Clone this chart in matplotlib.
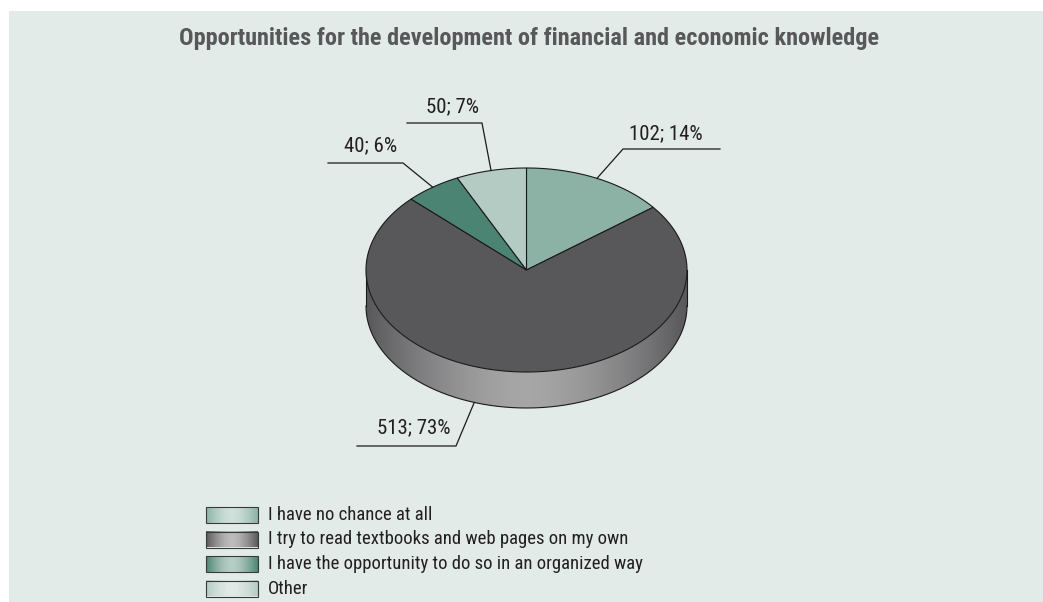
import numpy as np
import matplotlib
matplotlib.use("Agg")
import matplotlib.pyplot as plt
from matplotlib.colors import to_rgb
from matplotlib.patches import Polygon, Rectangle

title = "Opportunities for the development of financial and economic knowledge"
categories = [
    "I have no chance at all",
    "I try to read textbooks and web pages on my own",
    "I have the opportunity to do so in an organized way",
    "Other",
]
counts = [102, 513, 40, 50]
percents = [14, 73, 6, 7]
colors = ["#8bb2a5", "#58585a", "#4b8472", "#b4cbc3"]

FONT = ["Roboto Condensed", "Archivo Narrow", "DejaVu Sans"]
W, H = 1043, 602

fig = plt.figure(figsize=(W / 100, H / 100), dpi=100)
ax = fig.add_axes([0, 0, 1, 1])
ax.set_xlim(0, W)
ax.set_ylim(H, 0)
ax.axis("off")

ax.add_patch(Rectangle((9, 11), W - 9, H - 11, facecolor="#e3ebe8",
                       edgecolor="none", zorder=0))

# 3D pie geometry (pixels)
cx, cy, rx, ry, depth = 526.5, 270, 160.5, 102, 36


def ell(t, dy=0.0):
    t = np.radians(t)
    return np.column_stack([cx + rx * np.cos(t), cy - ry * np.sin(t) + dy])


def shade(color, n=400, k=0.47):
    # horizontal gradient: base colour at the rim, lighter towards the middle
    c = np.array(to_rgb(color))
    u = np.linspace(-1, 1, n)
    f = k * (1 - np.abs(u) ** 1.6)
    return c[None, :] + (1 - c[None, :]) * f[:, None]


shares = np.array(counts) / sum(counts)
starts = 90 - 360 * np.concatenate([[0], np.cumsum(shares)[:-1]])
ends = starts - 360 * shares

# front side of the cylinder, visible for angles between -180 and 0
for s, e, col in zip(starts, ends, colors):
    for lo, hi in [(-180, 0), (180, 360), (-540, -360)]:
        a, b = max(e, lo), min(s, hi)
        if b <= a:
            continue
        t = np.linspace(a, b, 120)
        pts = np.vstack([ell(t), ell(t[::-1], depth)])
        poly = Polygon(pts, closed=True, facecolor="none", edgecolor="none")
        ax.add_patch(poly)
        im = ax.imshow(shade(col)[None, :, :],
                       extent=(cx - rx, cx + rx, cy + ry + depth + 2, cy - 2),
                       aspect="auto", interpolation="bilinear", zorder=2)
        im.set_clip_path(poly)

# outline of the side
tb = np.linspace(-180, 0, 200)
bottom = ell(tb, depth)
ax.plot(bottom[:, 0], bottom[:, 1], color="#1a1a1a", lw=0.8, zorder=3)
ax.plot([cx - rx, cx - rx], [cy, cy + depth], color="#1a1a1a", lw=0.8, zorder=3)
ax.plot([cx + rx, cx + rx], [cy, cy + depth], color="#1a1a1a", lw=0.8, zorder=3)

# top face
for s, e, col in zip(starts, ends, colors):
    t = np.linspace(s, e, 200)
    pts = np.vstack([[cx, cy], ell(t)])
    ax.add_patch(Polygon(pts, closed=True, facecolor=col, edgecolor="#1a1a1a",
                         lw=0.8, joinstyle="miter", zorder=4))

# data labels with leader lines: (anchor angle, on side bottom?, elbow, line end x, text pos)
mids = (starts + ends) / 2
label_layout = [
    (mids[0], False, (623, 149), 720, (666, 134)),
    (-109, True, (456, 446), 357, (414, 428)),
    (mids[2], False, (403, 163), 328, (371, 146)),
    (mids[3], False, (482, 123), 407, (452, 107)),
]
for n, p, (ang, on_side, elbow, end_x, txt) in zip(counts, percents, label_layout):
    anchor = ell(np.array([ang]), depth if on_side else 0)[0]
    ax.plot([anchor[0], elbow[0], end_x], [anchor[1], elbow[1], elbow[1]],
            color="#1a1a1a", lw=0.9, zorder=5)
    ax.text(txt[0], txt[1], f"{n}; {p}%", ha="center", va="center",
            fontsize=15, family=FONT, color="#231f20", zorder=6)

ax.text(529, 39, title, ha="center", va="center", fontsize=17.5, fontweight="bold",
        family=FONT, color="#58585a")

# legend
row_y = [515, 539.5, 564, 588.5]
for label, col, y in zip(categories, colors, row_y):
    box = Rectangle((206, y - 8), 52, 16, facecolor="none", edgecolor="#3a3a3a", lw=0.8, zorder=3)
    ax.add_patch(box)
    ax.imshow(shade(col, k=0.6)[None, :, :], extent=(206, 258, y + 8, y - 8),
              aspect="auto", interpolation="bilinear", zorder=2)
    ax.text(268, y, label, ha="left", va="center", fontsize=13.5,
            family=FONT, color="#231f20")

ax.set_xlim(0, W)
ax.set_ylim(H, 0)
fig.savefig("out.png", dpi=100, facecolor="white")
